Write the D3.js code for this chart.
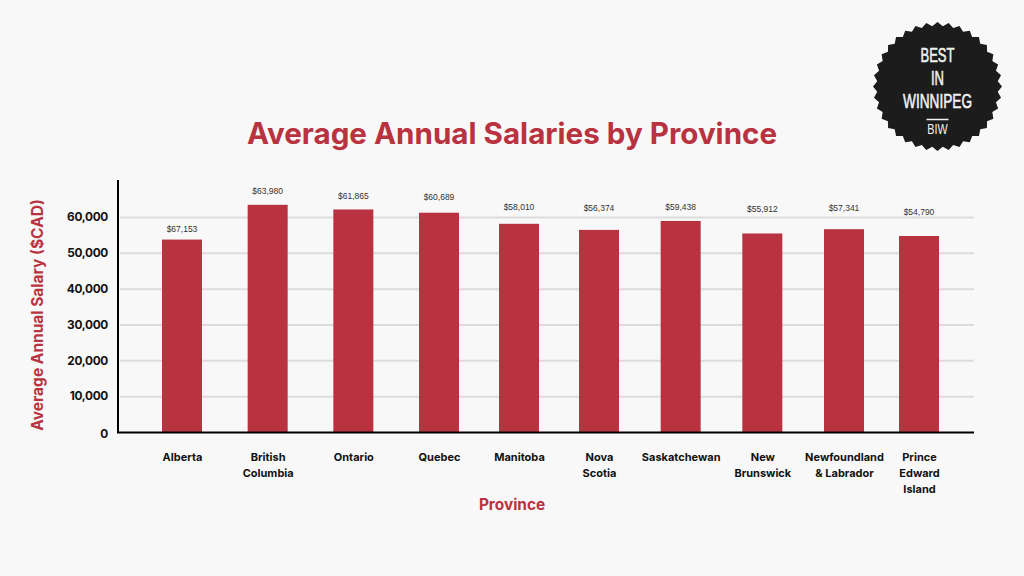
<!DOCTYPE html>
<html><head><meta charset="utf-8">
<script src="https://cdnjs.cloudflare.com/ajax/libs/d3/7.8.5/d3.min.js"></script>
<style>html,body{margin:0;padding:0;background:#f8f8f8}svg{display:block}</style>
</head><body><svg id="c" width="1024" height="576"></svg>
<script>
// ---- data ----
const provinces = ["Alberta","British Columbia","Ontario","Quebec","Manitoba","Nova Scotia","Saskatchewan","New Brunswick","Newfoundland & Labrador","Prince Edward Island"];
const provinceLines = [["Alberta"],["British","Columbia"],["Ontario"],["Quebec"],["Manitoba"],["Nova","Scotia"],["Saskatchewan"],["New","Brunswick"],["Newfoundland","& Labrador"],["Prince","Edward","Island"]];
const barValues = [53700,63400,62100,61200,58100,56400,58900,55400,56600,54700];
const printedLabels = ["$67,153","$63,980","$61,865","$60,689","$58,010","$56,374","$59,438","$55,912","$57,341","$54,790"];
const yTicks = [0,10000,20000,30000,40000,50000,60000];
const badgeLines = ["BEST","IN","WINNIPEG"];

// ---- layout ----
const labelRaise = [8,11,10,13,14,19,11,21,18,21];
const red = "#b93240", ink = "#111";
const font = "Inter, 'Open Sans', sans-serif";
const svg = d3.select("#c");
svg.append("rect").attr("width",1024).attr("height",576).attr("fill","#f8f8f8");

const y = d3.scaleLinear().domain([0,60000]).range([432,217]);
// piecewise position scale: the columns are not evenly spaced in the picture
const x = d3.scaleLinear().domain([0,3,5,8,9]).range([182,439,599,844,919]);
const barW = 40;

// gridlines + y axis labels
const yAxis = d3.axisLeft(y).tickValues(yTicks).tickFormat(d3.format(",")).tickSize(0).tickPadding(11);
const gy = svg.append("g").attr("transform","translate(119,0)").call(yAxis);
gy.select(".domain").remove();
gy.selectAll("text").attr("font-family",font).attr("font-size",11.8).attr("font-weight",700).attr("letter-spacing",-0.3).attr("fill",ink);
gy.selectAll(".tick").filter(d=>d===0).select("text").attr("dy","0.45em");
gy.selectAll(".tick").filter(d=>d>0).append("line").attr("x1",1).attr("x2",855).attr("stroke","#dcdcdc").attr("stroke-width",2);

// bars
svg.append("g").selectAll("rect").data(provinces).join("rect")
  .attr("x",(d,i)=>x(i)-barW/2).attr("width",barW)
  .attr("y",(d,i)=>y(barValues[i])).attr("height",(d,i)=>y(0)-y(barValues[i]))
  .attr("fill",red);

// printed value labels
svg.append("g").selectAll("text").data(printedLabels).join("text")
  .attr("x",(d,i)=>x(i)).attr("y",(d,i)=>y(barValues[i])-labelRaise[i])
  .attr("text-anchor","middle").attr("font-family","'Liberation Sans',Arial,sans-serif").attr("font-size",8.5)
  .attr("fill","#333").text(d=>d);

// axis lines
svg.append("line").attr("x1",118).attr("x2",118).attr("y1",180).attr("y2",433).attr("stroke","#000").attr("stroke-width",2);
svg.append("line").attr("x1",117).attr("x2",974).attr("y1",432.5).attr("y2",432.5).attr("stroke","#000").attr("stroke-width",2);

// x axis labels
const xAxis = d3.axisBottom(x).tickValues(d3.range(provinces.length)).tickSize(0).tickFormat("");
const gx = svg.append("g").attr("transform","translate(0,433)").call(xAxis);
gx.select(".domain").remove();
gx.selectAll(".tick text").each(function(d){
  const t = d3.select(this).attr("y",28).attr("dy",null).attr("font-family",font).attr("font-size",11).attr("font-weight",700).attr("fill",ink);
  provinceLines[d].forEach((s,k)=>t.append("tspan").attr("x",0).attr("y",28+k*16).text(s));
});

// titles
svg.append("text").attr("x",512).attr("y",144).attr("text-anchor","middle").attr("font-family",font).attr("font-size",29.6).attr("font-weight",700).attr("fill",red).text("Average Annual Salaries by Province");
svg.append("text").attr("x",512).attr("y",510).attr("text-anchor","middle").attr("font-family",font).attr("font-size",15.4).attr("font-weight",700).attr("fill",red).text("Province");
svg.append("text").attr("transform","translate(43,315) rotate(-90)").attr("text-anchor","middle").attr("font-family",font).attr("font-size",15.5).attr("font-weight",700).attr("fill",red).text("Average Annual Salary ($CAD)");

// badge
const teeth = 36;
const badgePts = d3.range(teeth*2).map(i=>[i*Math.PI/teeth, i%2?60.5:64.5]);
const badge = svg.append("g").attr("transform","translate(937.5,86.5)");
badge.append("path").attr("d",d3.lineRadial().curve(d3.curveLinearClosed)(badgePts)).attr("fill","#1c1c1c");
const bf = "'Liberation Sans',sans-serif";
const badgeY=[-24.5,-1.5,21.5];
const badgeScale=[0.62,0.62,0.65];
badge.selectAll("text.b").data(badgeLines).join("text").attr("class","b")
  .attr("transform",(d,i)=>`translate(0,${badgeY[i]}) scale(${badgeScale[i]},1)`)
  .attr("text-anchor","middle").attr("font-family",bf).attr("font-size",21).attr("fill","#f2f2f2").attr("stroke","#f2f2f2").attr("stroke-width",0.6).text(d=>d);
badge.append("line").attr("x1",-11).attr("x2",11).attr("y1",33).attr("y2",33).attr("stroke","#f2f2f2").attr("stroke-width",1.5);
badge.append("text").attr("transform","translate(0,47.5) scale(0.72,1)").attr("text-anchor","middle").attr("font-family",bf).attr("font-size",15).attr("fill","#f2f2f2").text("BIW");
</script></body></html>
